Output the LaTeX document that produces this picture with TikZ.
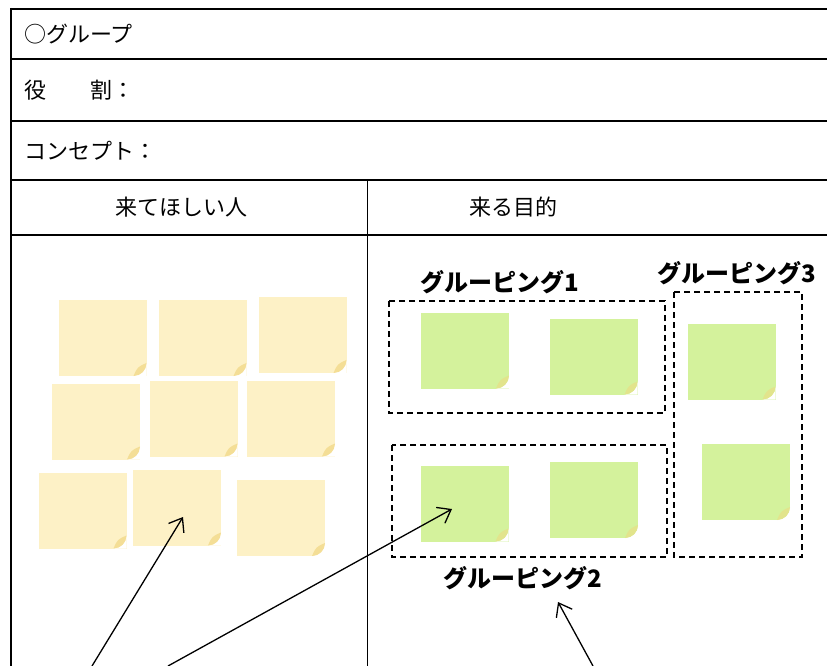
\documentclass[tikz,border=0pt]{standalone}
\usepackage{fontspec}
\newfontfamily\jpfont{Noto Sans CJK JP}
\usetikzlibrary{arrows.meta}

\definecolor{noteyellow}{RGB}{253,241,198}
\definecolor{curlyellow}{RGB}{244,222,150}
\definecolor{notegreen}{RGB}{212,242,156}
\definecolor{curlgreen}{RGB}{226,228,140}

\tikzset{
  note/.style={rectangle, minimum width=88pt, minimum height=76pt, inner sep=0pt,
    path picture={
      \fill[white] (path picture bounding box.south east)
        -- ([xshift=-13pt]path picture bounding box.south east)
        arc[start angle=270, end angle=360, radius=13pt] -- cycle;
      \fill[#1] ([xshift=-13pt]path picture bounding box.south east)
        arc[start angle=270, end angle=360, radius=13pt]
        .. controls ([xshift=-9pt,yshift=9pt]path picture bounding box.south east)
        .. ([xshift=-13pt]path picture bounding box.south east);
    }},
  yellownote/.style={note=curlyellow, fill=noteyellow},
  greennote/.style={note=curlgreen, fill=notegreen},
  rowtext/.style={font=\jpfont\fontsize{22pt}{26pt}\selectfont, inner sep=0pt},
  grouplabel/.style={font=\jpfont\bfseries\fontsize{24pt}{28pt}\selectfont, inner sep=0pt},
  tableline/.style={line width=2pt},
  groupbox/.style={line width=1.5pt, dash pattern=on 6pt off 4pt},
  pointer/.style={line width=1.3pt, -{Straight Barb[length=12pt,width=18pt]}}
}

\begin{document}
\begin{tikzpicture}[x=1pt, y=-1pt]

        \useasboundingbox (0,0) rectangle (827,666);

        % table
        \draw[tableline] (11,9) -- (827,9);
        \draw[tableline] (11,59) -- (827,59);
        \draw[tableline] (11,121) -- (827,121);
        \draw[tableline] (11,180) -- (827,180);
        \draw[tableline] (11,235) -- (827,235);
        \draw[tableline] (11,8) -- (11,666);
        \draw[line width=1pt] (367,180) -- (367,666);

        \node[rowtext, anchor=west] (group)   at (24,34)  {○グループ};
        \node[rowtext, anchor=west] (role)    at (24,90)  {役\hspace{2em}割：};
        \node[rowtext, anchor=west] (concept) at (24,151) {コンセプト：};
        \node[rowtext] (wanted)  at (181,207) {来てほしい人};
        \node[rowtext] (purpose) at (513,207) {来る目的};

        \begin{scope}[every node/.style={yellownote}]
          \node (y1) at (102.5,338)   {};
          \node (y2) at (202.5,338)   {};
          \node (y3) at (302.5,335)   {};
          \node (y4) at (96,421.5)    {};
          \node (y5) at (193.5,418.5) {};
          \node (y6) at (291,418.5)   {};
          \node (y7) at (82.5,510.5)  {};
          \node (y8) at (177,507.5)   {};
          \node (y9) at (281,518)     {};
        \end{scope}

        \begin{scope}[every node/.style={greennote}]
          \node (g1) at (465,350.5)   {};
          \node (g2) at (593.5,356.5) {};
          \node (g3) at (731.5,361.5) {};
          \node (g4) at (464.5,503.5) {};
          \node (g5) at (594,500)     {};
          \node (g6) at (746,482)     {};
        \end{scope}

        % groups
        \draw[groupbox] (389,301) rectangle (665,413);
        \draw[groupbox] (392,445) rectangle (667,557);
        \draw[groupbox] (674,292) rectangle (802,557);

        \node[grouplabel] (lab1) at (500,282) {グルーピング1};
        \node[grouplabel] (lab2) at (523,578) {グルーピング2};
        \node[grouplabel] (lab3) at (737,273) {グルーピング3};

        % pointers
        \coordinate (s1) at (92,666);
        \coordinate (s2) at (168,666);
        \coordinate (s3) at (593,666);
        \draw[pointer] (s1) -- ([xshift=6pt,yshift=-9.5pt]y8.center);
        \draw[pointer] (s2) -- ([xshift=-12.5pt,yshift=-5.5pt]g4.center);
        \draw[pointer] (s3) -- ([xshift=35pt,yshift=-24pt]lab2.center);

\end{tikzpicture}
\end{document}
